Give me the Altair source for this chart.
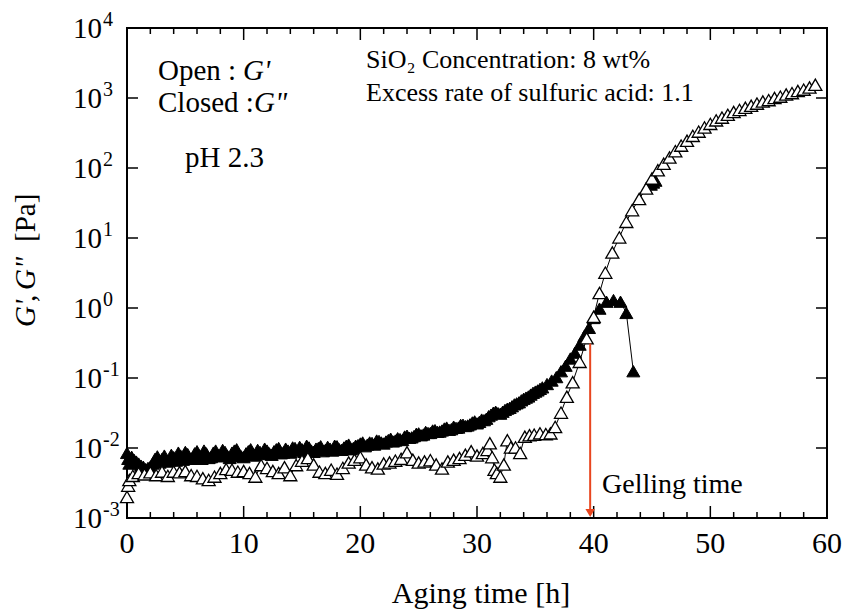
import altair as alt
import pandas as pd

FONT = "Liberation Serif"

# ---------------- data ----------------
# G' (open triangles): aging time [h] and modulus [Pa]
open_t = [0.0, 0.1, 0.2, 0.5, 1.0, 1.5, 2.0, 2.5, 3.0, 3.5, 4.0, 4.5, 5.0, 5.5, 6.0, 6.5,
          7.0, 7.5, 8.0, 8.5, 9.0, 9.5, 10.0, 10.5, 11.0, 11.5, 12.0, 12.5, 13.0, 13.5,
          14.0, 14.5, 15.0, 15.5, 16.0, 16.5, 17.0, 17.5, 18.0, 18.5, 19.0, 19.5, 20.0,
          20.5, 21.0, 21.5, 22.0, 22.5, 23.0, 23.5, 24.0, 24.5, 25.0, 25.5, 26.0, 26.5,
          27.0, 27.5, 28.0, 28.5, 29.0, 29.5, 30.0, 30.5, 30.9, 31.1, 31.3, 31.5, 31.7,
          32.0, 32.3, 32.6, 32.9, 33.3, 33.7, 34.1, 34.5, 34.9, 35.4, 35.9, 36.3, 36.7,
          37.2, 37.7, 38.2, 38.8, 39.4, 40.0, 40.5, 41.0, 41.6, 42.2, 42.8, 43.3, 43.9,
          44.5, 45.0, 45.5, 46.0, 46.5, 47.0, 47.5, 48.0, 48.5, 49.0, 49.5, 50.0, 50.5,
          51.0, 51.5, 52.0, 52.5, 53.0, 53.5, 54.0, 54.5, 55.0, 55.5, 56.0, 56.5, 57.0,
          57.5, 58.0, 58.5, 59.0]
open_v = [0.0020, 0.0029, 0.0035, 0.0040, 0.0044, 0.0042, 0.0045, 0.0041, 0.0046, 0.0040,
          0.0046, 0.0045, 0.0047, 0.0041, 0.0040, 0.0037, 0.0035, 0.0039, 0.0044, 0.0050,
          0.0049, 0.0046, 0.0047, 0.0044, 0.0039, 0.0057, 0.0052, 0.0047, 0.0044, 0.0053,
          0.0041, 0.0057, 0.0066, 0.0072, 0.0058, 0.0046, 0.0044, 0.0049, 0.0043, 0.0052,
          0.0062, 0.0068, 0.0074, 0.0058, 0.0053, 0.0051, 0.0060, 0.0062, 0.0066, 0.0070,
          0.0087, 0.0068, 0.0062, 0.0064, 0.0067, 0.0058, 0.0051, 0.0064, 0.0068, 0.0072,
          0.0080, 0.0090, 0.0078, 0.0085, 0.0094, 0.0117, 0.0074, 0.0049, 0.0044, 0.0039,
          0.0058, 0.0129, 0.0102, 0.0102, 0.0085, 0.0145, 0.0152, 0.0155, 0.0162, 0.0158,
          0.0162, 0.020, 0.032, 0.054, 0.087, 0.17, 0.37, 0.75, 1.64, 3.2, 6.2, 10.2, 17.0,
          25.0, 36.0, 51.0, 71.0, 93.0, 115.0, 141.0, 174.0, 209.0, 245.0, 288.0, 331.0,
          380.0, 427.0, 479.0, 525.0, 575.0, 631.0, 676.0, 724.0, 776.0, 832.0, 891.0,
          933.0, 1000.0, 1047.0, 1122.0, 1175.0, 1259.0, 1318.0, 1413.0, 1549.0]

# G'' (closed triangles), main readings
closed_t = [0.0, 0.1, 0.2, 0.4, 0.8, 1.2, 1.6, 2.0, 2.4, 2.8, 3.2, 3.6, 4.0, 4.4, 4.8, 5.2,
            5.6, 6.0, 6.4, 6.8, 7.2, 7.6, 8.0, 8.4, 8.8, 9.2, 9.6, 10.0, 10.4, 10.8, 11.2,
            11.6, 12.0, 12.4, 12.8, 13.2, 13.6, 14.0, 14.4, 14.8, 15.2, 15.6, 16.0, 16.4,
            16.8, 17.2, 17.6, 18.0, 18.4, 18.8, 19.2, 19.6, 20.0, 20.4, 20.8, 21.2, 21.6,
            22.0, 22.4, 22.8, 23.2, 23.6, 24.0, 24.4, 24.8, 25.2, 25.6, 26.0, 26.4, 26.8,
            27.2, 27.6, 28.0, 28.4, 28.8, 29.2, 29.6, 30.0, 30.4, 30.8, 31.2, 31.6, 32.0,
            32.4, 32.8, 33.2, 33.6, 34.0, 34.4, 34.8, 35.2, 35.6, 36.0, 36.4, 36.8, 37.2,
            37.6, 38.0, 38.4, 38.8, 39.2, 39.6, 40.0, 40.5, 41.1, 41.7, 42.3, 42.8, 43.4]
closed_v = [0.0085, 0.0070, 0.0060, 0.0075, 0.0064, 0.0056, 0.0050, 0.0054, 0.0070, 0.0062,
            0.0078, 0.0066, 0.0074, 0.0086, 0.0068, 0.0082, 0.0072, 0.0090, 0.0070, 0.0084,
            0.0074, 0.0092, 0.0076, 0.0088, 0.0072, 0.0092, 0.0080, 0.0074, 0.0090, 0.0078,
            0.0094, 0.0082, 0.0092, 0.0080, 0.0096, 0.0084, 0.0098, 0.0086, 0.0100, 0.0104,
            0.0088, 0.0102, 0.0088, 0.0100, 0.0090, 0.0104, 0.0092, 0.0106, 0.0094, 0.0108,
            0.0096, 0.0108, 0.0116, 0.0106, 0.0120, 0.0112, 0.0126, 0.0116, 0.0130, 0.0124,
            0.0138, 0.0130, 0.0150, 0.0142, 0.0160, 0.0152, 0.0170, 0.0164, 0.0180, 0.0172,
            0.0190, 0.0182, 0.0202, 0.0196, 0.0215, 0.0210, 0.0232, 0.0225, 0.0255, 0.0262,
            0.0300, 0.0330, 0.0310, 0.0350, 0.0375, 0.0420, 0.0450, 0.0505, 0.0545, 0.0615,
            0.0665, 0.0735, 0.082, 0.092, 0.103, 0.125, 0.150, 0.19, 0.23, 0.30, 0.40, 0.52,
            0.72, 0.98, 1.23, 1.30, 1.23, 0.85, 0.125]

# G'' (closed triangles), in-between readings of the dense band
closed_t2 = [0.6, 1.0, 1.4, 1.8, 2.2, 2.6, 3.0, 3.4, 3.8, 4.2,
             4.6, 5.0, 5.4, 5.8, 6.2, 6.6, 7.0, 7.4, 7.8, 8.2,
             8.6, 9.0, 9.4, 9.8, 10.2, 10.6, 11.0, 11.4, 11.8, 12.2,
             12.6, 13.0, 13.4, 13.8, 14.2, 14.6, 15.0, 15.4, 15.8, 16.2,
             16.6, 17.0, 17.4, 17.8, 18.2, 18.6, 19.0, 19.4, 19.8, 20.2,
             20.6, 21.0, 21.4, 21.8, 22.2, 22.6, 23.0, 23.4, 23.8, 24.2,
             24.6, 25.0, 25.4, 25.8, 26.2, 26.6, 27.0, 27.4, 27.8, 28.2,
             28.6, 29.0, 29.4, 29.8, 30.2, 30.6, 31.0, 31.4, 31.8, 32.2,
             32.6, 33.0, 33.4, 33.8, 34.2, 34.6, 35.0, 35.4]
closed_v2 = [0.0068, 0.0060, 0.0054, 0.0052, 0.0060, 0.0076, 0.0070, 0.0064, 0.0080, 0.0066,
             0.0078, 0.0088, 0.0070, 0.0084, 0.0078, 0.0092, 0.0072, 0.0086, 0.0080, 0.0094,
             0.0078, 0.0086, 0.0096, 0.0076, 0.0084, 0.0096, 0.0080, 0.0088, 0.0098, 0.0084,
             0.0090, 0.0100, 0.0086, 0.0092, 0.0102, 0.0090, 0.0096, 0.0108, 0.0092, 0.0098,
             0.0106, 0.0094, 0.0098, 0.0108, 0.0096, 0.0102, 0.0112, 0.0100, 0.0110, 0.0120,
             0.0112, 0.0118, 0.0128, 0.0120, 0.0124, 0.0136, 0.0128, 0.0134, 0.0146, 0.0140,
             0.0148, 0.0162, 0.0156, 0.0164, 0.0178, 0.0170, 0.0178, 0.0196, 0.0186, 0.0194,
             0.0214, 0.0206, 0.0218, 0.0240, 0.0236, 0.0250, 0.0285, 0.0320, 0.0315, 0.0330,
             0.0365, 0.0395, 0.0435, 0.0480, 0.0525, 0.0580, 0.0640, 0.0700]

# a few closed symbols hidden behind the G' curve
closed_extra_t = [44.9, 45.1, 45.3]
closed_extra_v = [58.0, 62.0, 66.0]

# gelling-time arrow
gel_t = [39.7]
gel_top = [0.31]

# axis ticks / labels
x_major = [0, 10, 20, 30, 40, 50, 60]
x_major_labels = ["0", "10", "20", "30", "40", "50", "60"]
x_minor = [2, 4, 6, 8, 12, 14, 16, 18, 22, 24, 26, 28, 32, 34, 36, 38, 42, 44, 46, 48,
           52, 54, 56, 58]
y_decades = [0.001, 0.01, 0.1, 1, 10, 100, 1000, 10000]
y_exponents = ["-3", "-2", "-1", "0", "1", "2", "3", "4"]

# ---------------- chart ----------------
W, H = 700, 490
xs = alt.Scale(domain=[0, 60], nice=False, zero=False)
ys = alt.Scale(type="log", domain=[0.001, 10000], nice=False)

df_open = pd.DataFrame({"t": open_t, "v": open_v})
df_closed = pd.concat([pd.DataFrame({"t": closed_t, "v": closed_v}),
                       pd.DataFrame({"t": closed_t2, "v": closed_v2})]
                      ).sort_values("t").reset_index(drop=True)
df_cextra = pd.DataFrame({"t": closed_extra_t, "v": closed_extra_v})
df_gel = pd.DataFrame({"t": gel_t, "v": gel_top})
df_xmaj = pd.DataFrame({"t": x_major, "lab": x_major_labels})
df_xmin = pd.DataFrame({"t": x_minor})
df_y = pd.DataFrame({"v": y_decades, "e": y_exponents})
one = pd.DataFrame({"a": [0]})

X = lambda: alt.X("t:Q", scale=xs, axis=None)
Y = lambda: alt.Y("v:Q", scale=ys, axis=None)

SYM = 170
RED = "#e8451e"

closed_line = alt.Chart(df_closed).mark_line(color="black", strokeWidth=1).encode(
    x=X(), y=Y(), order="t:Q")
open_line = alt.Chart(df_open).mark_line(color="black", strokeWidth=1).encode(
    x=X(), y=Y(), order="t:Q")
closed_pts = alt.Chart(df_closed).mark_point(
    shape="triangle-up", filled=True, fill="black", stroke="black", strokeWidth=1,
    size=SYM, opacity=1).encode(x=X(), y=Y())
cextra_pts = alt.Chart(df_cextra).mark_point(
    shape="triangle-up", filled=True, fill="black", stroke="black", strokeWidth=1,
    size=SYM, opacity=1).encode(x=X(), y=Y())
open_pts = alt.Chart(df_open).mark_point(
    shape="triangle-up", filled=True, fill="white", stroke="black", strokeWidth=1.3,
    size=SYM, opacity=1).encode(x=X(), y=Y())

gel_rule = alt.Chart(df_gel).mark_rule(color=RED, strokeWidth=2).encode(
    x=X(), y=Y(), y2=alt.value(H - 8))
gel_head = alt.Chart(df_gel).mark_point(
    shape="triangle-down", filled=True, color=RED, size=90, opacity=1).encode(
    x=X(), y=alt.value(H - 5))

# inward ticks
tk = dict(color="black", strokeWidth=1.5)
xmaj_b = alt.Chart(df_xmaj).mark_rule(**tk).encode(x=X(), y=alt.value(H), y2=alt.value(H - 12))
xmaj_t = alt.Chart(df_xmaj).mark_rule(**tk).encode(x=X(), y=alt.value(0), y2=alt.value(12))
xmin_b = alt.Chart(df_xmin).mark_rule(**tk).encode(x=X(), y=alt.value(H), y2=alt.value(H - 6))
xmin_t = alt.Chart(df_xmin).mark_rule(**tk).encode(x=X(), y=alt.value(0), y2=alt.value(6))
y_l = alt.Chart(df_y).mark_rule(**tk).encode(y=Y(), x=alt.value(0), x2=alt.value(11))
y_r = alt.Chart(df_y).mark_rule(**tk).encode(y=Y(), x=alt.value(W), x2=alt.value(W - 11))

# tick labels
xlab = alt.Chart(df_xmaj).mark_text(font=FONT, fontSize=30, baseline="alphabetic",
                                    align="center", color="black").encode(
    x=X(), y=alt.value(H + 35), text="lab:N")
ylab10 = alt.Chart(df_y).mark_text(font=FONT, fontSize=29, baseline="alphabetic",
                                   align="right", dy=10, color="black").encode(
    y=Y(), x=alt.value(-25), text=alt.value("10"))
ylabexp = alt.Chart(df_y).mark_text(font=FONT, fontSize=20, baseline="alphabetic",
                                    align="left", dy=-2, color="black").encode(
    y=Y(), x=alt.value(-24), text="e:N")


def label(txt, x, y, size, style="normal", align="left", angle=0):
    return alt.Chart(one).mark_text(
        text=txt, font=FONT, fontSize=size, fontStyle=style, align=align,
        baseline="alphabetic", angle=angle, color="black").encode(
        x=alt.value(x), y=alt.value(y))


texts = [
    label("Open :", 31, 52, 29),
    label("G'", 116, 52, 29, "italic"),
    label("Closed :", 31, 84, 29),
    label('G"', 127, 84, 29, "italic"),
    label("pH 2.3", 58, 139, 29),
    label("SiO\u2082 Concentration: 8 wt%", 239, 40, 26),
    label("Excess rate of sulfuric acid: 1.1", 239, 73, 26),
    label("Gelling time", 475, 465, 28),
    label("Aging time [h]", 354, 575, 30, align="center"),
    # rotated y title, read bottom to top
    label("G'", -92, 299, 29, "italic", angle=270),
    label(",", -92, 274, 29, angle=270),
    label('G"', -92, 262, 29, "italic", angle=270),
    label("[Pa]", -92, 214, 29, angle=270),
]

chart = alt.layer(
    xmaj_b, xmaj_t, xmin_b, xmin_t, y_l, y_r,
    closed_line, open_line, closed_pts, cextra_pts, open_pts,
    gel_rule, gel_head,
    xlab, ylab10, ylabexp, *texts,
).properties(
    width=W, height=H,
    padding={"left": 127, "top": 28, "right": 21, "bottom": 92},
    autosize=alt.AutoSizeParams(type="none"),
    background="white",
).configure_view(stroke="black", strokeWidth=2)

chart.save("out.html", embed_options={"renderer": "svg", "actions": False})
